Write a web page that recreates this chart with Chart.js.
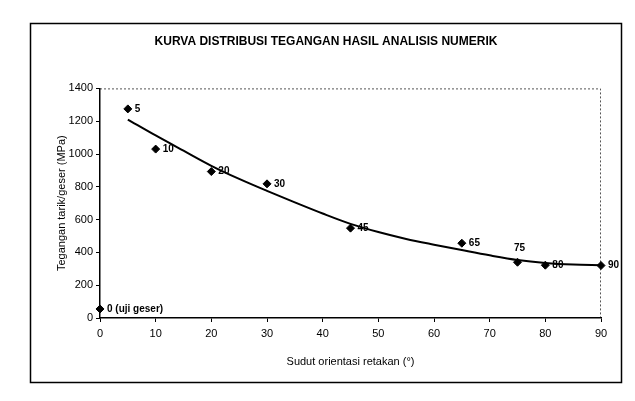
<!DOCTYPE html>
<html>
<head>
<meta charset="utf-8">
<script src="https://cdn.jsdelivr.net/npm/chart.js@4/dist/chart.umd.min.js"></script>
<style>
  html, body { margin: 0; padding: 0; background: #fff; }
  #wrap { position: relative; width: 635px; height: 401px; }
</style>
</head>
<body>
<div id="wrap"><canvas id="c" width="635" height="401"></canvas></div>
<script>
// ---- data ----
const angles      = [0, 5, 10, 20, 30, 45, 65, 75, 80, 90];
const stresses    = [55, 1275, 1030, 893, 818, 548, 456, 340, 322, 320];
const pointLabels = ['0 (uji geser)', '5', '10', '20', '30', '45', '65', '75', '80', '90'];
const trendX      = [5, 10, 15, 20, 25, 30, 35, 40, 45, 50, 55, 60, 65, 70, 75, 80, 85, 90];
const trendY      = [1210, 1113, 1020, 928, 848, 775, 705, 637, 574, 524, 482, 447, 414, 382, 354, 336, 326, 322];
const xTicks      = [0, 10, 20, 30, 40, 50, 60, 70, 80, 90];
const yTicks      = [0, 200, 400, 600, 800, 1000, 1200, 1400];

const titleText = 'KURVA DISTRIBUSI TEGANGAN HASIL ANALISIS NUMERIK';
const xTitle = 'Sudut orientasi retakan (\u00B0)';
const yTitle = 'Tegangan tarik/geser (MPa)';

const FONT = "'Liberation Sans', Arial, sans-serif";

const scatterData = angles.map((a, i) => ({ x: a, y: stresses[i] }));
const trendData = trendX.map((a, i) => ({ x: a, y: trendY[i] }));

const framePlugin = {
  id: 'frame',
  beforeDraw(chart) {
    const ctx = chart.ctx;
    ctx.save();
    ctx.fillStyle = '#fff';
    ctx.fillRect(0, 0, chart.width, chart.height);
    ctx.strokeStyle = '#000';
    ctx.lineWidth = 1.5;
    ctx.strokeRect(30.5, 23.5, 591, 359);
    const a = chart.chartArea;
    ctx.strokeStyle = '#555';
    ctx.lineWidth = 1;
    ctx.setLineDash([2, 2]);
    ctx.beginPath();
    ctx.moveTo(a.left, a.top + 0.5);
    ctx.lineTo(a.right - 0.5, a.top + 0.5);
    ctx.lineTo(a.right - 0.5, a.bottom);
    ctx.stroke();
    ctx.restore();
  }
};

const labelPlugin = {
  id: 'ptLabels',
  afterDatasetsDraw(chart) {
    const ctx = chart.ctx;
    const meta = chart.getDatasetMeta(1);
    ctx.save();
    ctx.fillStyle = '#000';
    ctx.font = 'bold 10px ' + FONT;
    ctx.textBaseline = 'middle';
    meta.data.forEach((el, i) => {
      const lbl = pointLabels[i];
      if (lbl === '75') {
        ctx.textAlign = 'center';
        ctx.fillText(lbl, el.x + 2, el.y - 14);
      } else {
        ctx.textAlign = 'left';
        ctx.fillText(lbl, el.x + 7, el.y);
      }
    });
    ctx.restore();
  }
};

new Chart(document.getElementById('c'), {
  type: 'scatter',
  data: {
    datasets: [
      {
        type: 'line',
        label: 'trend',
        data: trendData,
        borderColor: '#000',
        borderWidth: 2,
        pointRadius: 0,
        cubicInterpolationMode: 'monotone',
        fill: false,
        order: 2
      },
      {
        label: 'data',
        data: scatterData,
        pointStyle: 'rectRot',
        pointRadius: 4,
        backgroundColor: '#000',
        borderColor: '#000',
        borderWidth: 1,
        order: 1,
        clip: false
      }
    ]
  },
  options: {
    responsive: false,
    animation: false,
    devicePixelRatio: 1,
    layout: { padding: { left: 51, right: 34, top: 0, bottom: 28 } },
    plugins: {
      legend: { display: false },
      tooltip: { enabled: false },
      title: {
        display: true,
        text: titleText,
        color: '#000',
        font: { family: FONT, size: 12, weight: 'bold' },
        padding: { top: 34, bottom: 40 }
      }
    },
    scales: {
      x: {
        type: 'linear',
        min: 0, max: 90,
        afterBuildTicks(scale) { scale.ticks = xTicks.map(v => ({ value: v })); },
        afterFit(scale) { scale.height = 55; },
        ticks: { color: '#000', font: { family: FONT, size: 11 }, padding: 5, maxRotation: 0,
                 callback: v => String(v) },
        grid: { drawOnChartArea: false, color: '#000', tickLength: 4, tickWidth: 1 },
        border: { display: true, color: '#000', width: 1.5 },
        title: { display: true, text: xTitle, color: '#000', font: { family: FONT, size: 11 }, padding: { top: 4, bottom: 4 } }
      },
      y: {
        type: 'linear',
        min: 0, max: 1400,
        afterBuildTicks(scale) { scale.ticks = yTicks.map(v => ({ value: v })); },
        afterFit(scale) { scale.width = 49; },
        ticks: { color: '#000', font: { family: FONT, size: 11 }, padding: 3,
                 callback: v => String(v) },
        grid: { drawOnChartArea: false, color: '#000', tickLength: 4, tickWidth: 1 },
        border: { display: true, color: '#000', width: 1.5 },
        title: { display: true, text: yTitle, color: '#000', font: { family: FONT, size: 11 }, padding: { top: 4, bottom: 4 } }
      }
    }
  },
  plugins: [framePlugin, labelPlugin]
});
</script>
</body>
</html>
